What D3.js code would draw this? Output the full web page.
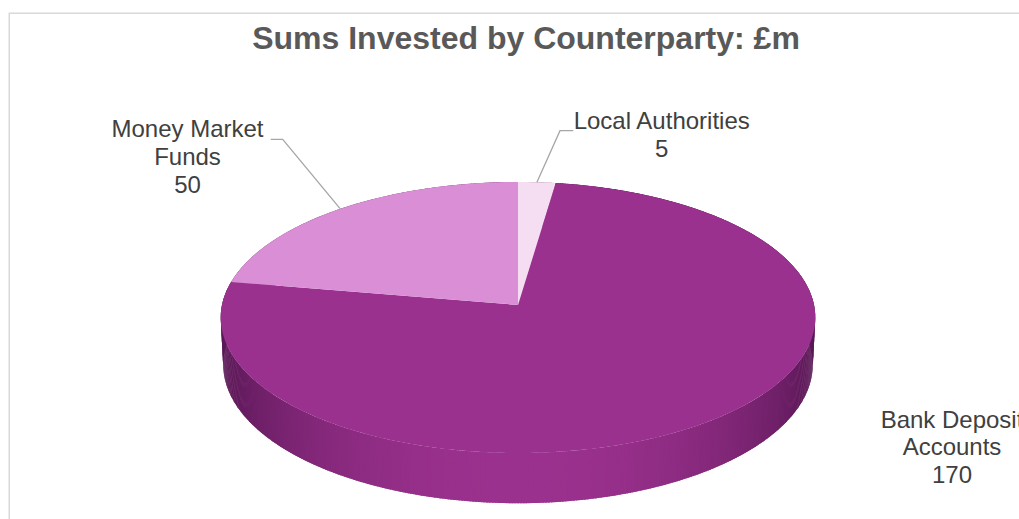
<!DOCTYPE html>
<html>
<head>
<meta charset="utf-8">
<script src="https://cdn.jsdelivr.net/npm/d3@7"></script>
<style>
  body { margin: 0; background: #fff; }
  svg { display: block; font-family: "Liberation Sans", Arial, sans-serif; }
</style>
</head>
<body>
<div id="chart"></div>
<script>
// data
var categories = ["Local Authorities", "Bank Deposit Accounts", "Money Market Funds"];
var labelLines = [["Local Authorities"], ["Bank Deposit", "Accounts"], ["Money Market", "Funds"]];
var values = [5, 170, 50];
var colours = ["#f5def2", "#9b318e", "#da8ed6"];
var shadeColours = ["#a8899f", "#531550", "#8a5487"];

// layout
var W = 1019, H = 519;
var cx = 518, cy = 305;      // apex of the pie on screen
var R = 296, depth = 53;     // radius and thickness in "3D" units
var tilt = Math.asin(0.454); // view elevation
var D = 2857;                // camera distance for the perspective

var labelPos = [
    { x: 661.7, y: 129.3, leader: [[573.3, 130.7], [560, 130.7]] },
    { x: 952, y: 427.7, leader: null },
    { x: 187.5, y: 137.3, leader: [[270.7, 139.3], [282.7, 139.3]] }
];

var svg = d3.select("#chart")
    .append("svg")
    .attr("width", W)
    .attr("height", H);

// chart frame (runs off the right and bottom edge)
svg.append("rect")
    .attr("x", 9.25).attr("y", 13.25)
    .attr("width", 1100).attr("height", 600)
    .attr("fill", "none")
    .attr("stroke", "#d9d9d9")
    .attr("stroke-width", 1.5);

svg.append("text")
    .attr("x", 526)
    .attr("y", 49.3)
    .attr("text-anchor", "middle")
    .style("font-size", "32px")
    .style("font-weight", "bold")
    .attr("fill", "#595959")
    .text("Sums Invested by Counterparty: £m");

// projection of a point on the pie (angle clockwise from 12 o'clock, r, height y)
var c = Math.cos(tilt), s = Math.sin(tilt);
function project(theta, r, y) {
    var X = r * Math.sin(theta);
    var Zb = r * Math.cos(theta);
    var w = D + Zb * c - y * s;
    return [cx + X * D / w, cy - (y * c + Zb * s) * D / w];
}

var pie = d3.pie().sort(null).value(function (d) { return d; })
    .startAngle(0).endAngle(2 * Math.PI);
var arcs = pie(values);

var g = svg.append("g");

// side wall: thin strips, back to front
var strips = [];
arcs.forEach(function (a, i) {
    var n = Math.max(2, Math.ceil((a.endAngle - a.startAngle) / (Math.PI / 360)));
    var step = (a.endAngle - a.startAngle) / n;
    for (var k = 0; k < n; k++) {
        var t0 = a.startAngle + k * step, t1 = t0 + step;
        strips.push({ i: i, t0: t0, t1: t1, mid: (t0 + t1) / 2 });
    }
});
strips.sort(function (a, b) { return Math.cos(b.mid) - Math.cos(a.mid); });

g.selectAll("path.side")
    .data(strips)
    .enter()
    .append("path")
    .attr("class", "side")
    .attr("d", function (d) {
        var e = 0.003;
        var p = [project(d.t0 - e, R, 0), project(d.t1 + e, R, 0),
                 project(d.t1 + e, R, -depth), project(d.t0 - e, R, -depth)];
        return "M" + p.join("L") + "Z";
    })
    .attr("fill", function (d) {
        var t = Math.max(0, -Math.cos(d.mid));
        t = Math.pow(t, 1.6);
        return d3.interpolateRgb(shadeColours[d.i], colours[d.i])(t);
    });

// top faces
var line = d3.line();
g.selectAll("path.top")
    .data(arcs)
    .enter()
    .append("path")
    .attr("class", "top")
    .attr("d", function (a) {
        var pts = [project(0, 0, 0)];
        var n = Math.max(4, Math.ceil((a.endAngle - a.startAngle) / (Math.PI / 180)));
        for (var k = 0; k <= n; k++) {
            var t = a.startAngle + (a.endAngle - a.startAngle) * k / n;
            pts.push(project(t, R, 0));
        }
        return line(pts) + "Z";
    })
    .attr("fill", function (a, i) { return colours[i]; });

// leader lines
arcs.forEach(function (a, i) {
    var lp = labelPos[i];
    if (!lp.leader) return;
    var anchor = project((a.startAngle + a.endAngle) / 2, R, 0);
    svg.append("path")
        .attr("d", line(lp.leader.concat([anchor])))
        .attr("fill", "none")
        .attr("stroke", "#a6a6a6")
        .attr("stroke-width", 1.3);
});

// data labels
arcs.forEach(function (a, i) {
    var lp = labelPos[i];
    var txt = svg.append("text")
        .attr("text-anchor", "middle")
        .attr("fill", "#404040")
        .style("font-size", "24px");
    labelLines[i].concat([String(values[i])]).forEach(function (l, k) {
        txt.append("tspan")
            .attr("x", lp.x)
            .attr("y", lp.y + k * 27.6)
            .text(l);
    });
});
</script>
</body>
</html>
